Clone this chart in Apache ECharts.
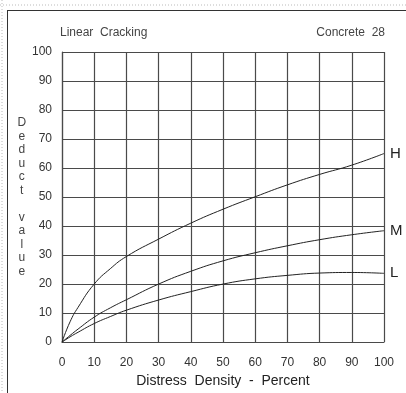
<!DOCTYPE html>
<html>
<head>
<meta charset="utf-8">
<script src="https://cdn.jsdelivr.net/npm/echarts@6/dist/echarts.min.js"></script>
<style>
  html, body { margin: 0; padding: 0; background: #fff; }
  #chart { width: 406px; height: 393px; }
</style>
</head>
<body>
<div id="chart"></div>
<script>
// 数据
const density = [0, 2.5, 5, 10, 15, 20, 30, 40, 50, 60, 70, 80, 90, 100]
const highValues = [0, 7, 12, 20, 25.3, 29.5, 35.5, 41, 45.8, 50.1, 54.2, 57.8, 61, 65]
const mediumValues = [0, 2.3, 4.5, 8.6, 11.8, 14.6, 20, 24.4, 28, 30.8, 33.2, 35.3, 37, 38.4]
const lowValues = [0, 1.8, 3.4, 6.4, 8.8, 11, 14.5, 17.4, 20, 21.8, 23, 23.8, 24, 23.7]
const seriesNames = ['H', 'M', 'L']

const chart = echarts.init(document.getElementById('chart'))
const font = 'Liberation Sans, Arial, sans-serif'
const gridColor = '#4a4a4a'

function makeSeries(name, values) {
  return {
    name: name,
    type: 'line',
    smooth: 0.5,
    symbol: 'none',
    lineStyle: { color: '#222', width: 1 },
    endLabel: {
      show: true,
      formatter: '{a}',
      color: '#222',
      fontSize: 15,
      fontFamily: font,
      distance: 6
    },
    data: density.map((d, i) => [d, values[i]])
  }
}

chart.setOption({
  animation: false,
  textStyle: { fontFamily: font },
  grid: { left: 62, right: 22, top: 52, bottom: 50 },
  xAxis: {
    type: 'value',
    min: 0,
    max: 100,
    interval: 10,
    name: 'Distress  Density  -  Percent',
    nameLocation: 'middle',
    nameGap: 29,
    nameTextStyle: { color: '#222', fontSize: 14, fontFamily: font },
    axisLine: { show: true, lineStyle: { color: gridColor, width: 1.2 } },
    axisTick: { show: false },
    axisLabel: { color: '#333', fontSize: 12, margin: 15, fontFamily: font },
    splitLine: { show: true, lineStyle: { color: gridColor, width: 1.2 } }
  },
  yAxis: {
    type: 'value',
    min: 0,
    max: 100,
    interval: 10,
    name: 'D\ne\nd\nu\nc\nt\n\nv\na\nl\nu\ne',
    nameLocation: 'middle',
    nameRotate: 0,
    nameGap: 40,
    nameTextStyle: {
      color: '#444',
      fontSize: 12,
      lineHeight: 13.5,
      align: 'center',
      padding: [7, 0, 0, 0],
      fontFamily: font
    },
    axisLine: { show: true, lineStyle: { color: gridColor, width: 1.2 } },
    axisTick: { show: false },
    axisLabel: { color: '#333', fontSize: 12, margin: 10, fontFamily: font },
    splitLine: { show: true, lineStyle: { color: gridColor, width: 1.2 } }
  },
  graphic: [
    { type: 'line', shape: { x1: 0, y1: 5, x2: 406, y2: 5 }, style: { stroke: '#bbb', lineWidth: 1, lineDash: [1, 2] } },
    { type: 'line', shape: { x1: 2, y1: 0, x2: 2, y2: 393 }, style: { stroke: '#bbb', lineWidth: 1, lineDash: [1, 2] } },
    { type: 'line', shape: { x1: 7, y1: 10.5, x2: 406, y2: 10.5 }, style: { stroke: '#333', lineWidth: 1 } },
    { type: 'line', shape: { x1: 7.5, y1: 10, x2: 7.5, y2: 393 }, style: { stroke: '#333', lineWidth: 1 } },
    { type: 'text', left: 60, top: 27, style: { text: 'Linear  Cracking', fill: '#444', font: '12px ' + font } },
    { type: 'text', right: 21, top: 27, style: { text: 'Concrete  28', fill: '#444', font: '12px ' + font } }
  ],
  series: [
    makeSeries(seriesNames[0], highValues),
    makeSeries(seriesNames[1], mediumValues),
    makeSeries(seriesNames[2], lowValues)
  ]
})
</script>
</body>
</html>
